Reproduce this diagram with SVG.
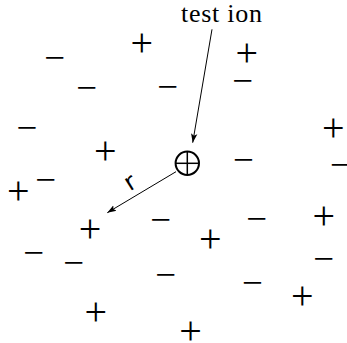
<svg xmlns="http://www.w3.org/2000/svg" width="347" height="343" viewBox="0 0 347 343">
<style>
.p{font-family:"Liberation Serif",serif;font-size:40px;text-anchor:middle;fill:#000}
.m{font-family:"Liberation Serif",serif;font-size:37px;text-anchor:middle;fill:#000}
.lbl{font-family:"Liberation Serif",serif;font-size:26px;fill:#000}
.r{font-family:"DejaVu Sans",sans-serif;font-size:24px;text-anchor:middle;fill:#000}
.ln{stroke:#000;stroke-width:1;fill:none}
</style>
<defs>
<marker id="ah" markerWidth="10" markerHeight="8" refX="9" refY="4" orient="auto" markerUnits="userSpaceOnUse">
<path d="M0,0.8 L9,4 L0,7.2 L2,4 Z" fill="#000"/>
</marker>
</defs>
<g id="charges">
<text class="m" x="54.7" y="70.4">−</text>
<text class="p" x="141.7" y="55.5">+</text>
<text class="p" x="246.7" y="66">+</text>
<text class="m" x="86.8" y="100.1">−</text>
<text class="m" x="167.7" y="99.1">−</text>
<text class="m" x="242.7" y="93.1">−</text>
<text class="m" x="27" y="139.7">−</text>
<text class="p" x="333.3" y="141">+</text>
<text class="p" x="105.3" y="163.7">+</text>
<text class="m" x="243.5" y="172.4">−</text>
<text class="m" x="340.5" y="177.4">−</text>
<text class="m" x="45.8" y="192.1">−</text>
<text class="p" x="18.2" y="203.7">+</text>
<text class="m" x="160.7" y="232.4">−</text>
<text class="m" x="256.7" y="231.4">−</text>
<text class="p" x="323.8" y="229.3">+</text>
<text class="p" x="90" y="242">+</text>
<text class="p" x="210.2" y="252.3">+</text>
<text class="m" x="33.8" y="264.7">−</text>
<text class="m" x="73.7" y="275.4">−</text>
<text class="m" x="323.8" y="271.1">−</text>
<text class="m" x="165.8" y="286.7">−</text>
<text class="m" x="252.5" y="294.7">−</text>
<text class="p" x="302.2" y="309.3">+</text>
<text class="p" x="95.8" y="324.7">+</text>
<text class="p" x="190.5" y="344.3">+</text>
</g>
<g id="test-ion">
<circle cx="187.3" cy="163.3" r="11.7" stroke="#000" stroke-width="2" fill="none"/>
<line x1="187.3" y1="151.6" x2="187.3" y2="175" stroke="#000" stroke-width="1.5"/>
<line x1="175.6" y1="163.3" x2="199" y2="163.3" stroke="#000" stroke-width="1.5"/>
</g>
<g id="label-test-ion">
<text class="lbl" x="181" y="22" textLength="81" lengthAdjust="spacing">test ion</text>
</g>
<g id="connectors">
<line class="ln" x1="212" y1="29.3" x2="192.7" y2="142.7" marker-end="url(#ah)"/>
<line class="ln" x1="176" y1="171.7" x2="107.3" y2="212.7" marker-end="url(#ah)"/>
</g>
<g id="label-r">
<text class="r" x="130" y="190" transform="rotate(-32 130 182)">r</text>
</g>
</svg>
